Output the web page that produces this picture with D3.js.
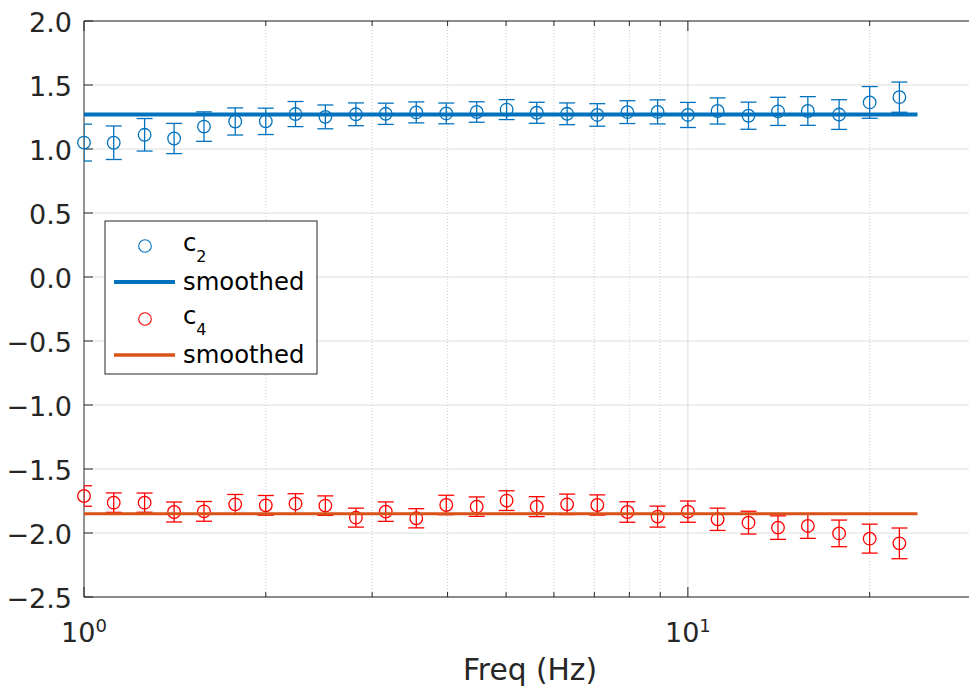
<!DOCTYPE html>
<html>
<head>
<meta charset="utf-8">
<script src="https://cdn.jsdelivr.net/npm/d3@7"></script>
<style>
  html, body { margin: 0; padding: 0; background: #fff; }
  svg { display: block; font-family: "DejaVu Sans", sans-serif; }
</style>
</head>
<body>
<svg id="chart" width="969" height="688"></svg>
<script>
// Frequencies (Hz) of each estimate
const freq = [1.00, 1.12, 1.26, 1.41, 1.58, 1.78, 2.00, 2.24, 2.51, 2.82,
              3.16, 3.55, 3.98, 4.47, 5.01, 5.62, 6.31, 7.08, 7.94, 8.91,
              10.0, 11.2, 12.6, 14.1, 15.8, 17.8, 20.0, 22.4];

// c2 coefficient and its error bar half-width
const c2 = [1.050, 1.049, 1.111, 1.082, 1.175, 1.215, 1.216, 1.273, 1.251, 1.271,
            1.275, 1.286, 1.278, 1.289, 1.308, 1.283, 1.275, 1.266, 1.288, 1.290,
            1.266, 1.297, 1.260, 1.294, 1.297, 1.269, 1.364, 1.405];
const c2Err = [0.144, 0.131, 0.127, 0.118, 0.115, 0.106, 0.103, 0.098, 0.093, 0.089,
               0.083, 0.082, 0.081, 0.080, 0.078, 0.082, 0.085, 0.088, 0.089, 0.094,
               0.098, 0.102, 0.106, 0.110, 0.112, 0.116, 0.124, 0.118];

// c4 coefficient and its error bar half-width
const c4 = [-1.711, -1.763, -1.763, -1.836, -1.831, -1.776, -1.784, -1.771, -1.786, -1.880,
            -1.833, -1.885, -1.781, -1.794, -1.747, -1.794, -1.776, -1.781, -1.836, -1.872,
            -1.833, -1.893, -1.919, -1.958, -1.945, -2.003, -2.044, -2.081];
const c4Err = [0.080, 0.076, 0.075, 0.078, 0.077, 0.077, 0.077, 0.078, 0.076, 0.074,
               0.076, 0.075, 0.076, 0.076, 0.077, 0.078, 0.080, 0.079, 0.080, 0.082,
               0.083, 0.087, 0.089, 0.092, 0.097, 0.104, 0.113, 0.120];

// Smoothed (constant) fits and the frequency span they cover
const smoothC2 = 1.27;
const smoothC4 = -1.85;
const smoothSpan = [1, 24];

// Axis ticks
const yTicks = [-2.5, -2.0, -1.5, -1.0, -0.5, 0.0, 0.5, 1.0, 1.5, 2.0];
const xMajor = [1, 10];
const xMajorExp = ["0", "1"];
const xMinor = [2, 3, 4, 5, 6, 7, 8, 9, 20, 30];

const legendNames = ["c", "smoothed", "c", "smoothed"];
const legendSubs = ["2", "", "4", ""];

const BLUE = "#0072BD", ORANGE = "#D95319", RED = "#FF0000", AX = "#262626";

const svg = d3.select("#chart");
const L = 84, T = 21, R = 976, B = 597;

const x = d3.scaleLog().domain([1, 30]).range([L, R]);
const y = d3.scaleLinear().domain([-2.5, 2.0]).range([B, T]);

svg.append("defs").append("clipPath").attr("id", "plotClip")
  .append("rect").attr("x", L).attr("y", T).attr("width", R - L).attr("height", B - T);

// Grid
const grid = svg.append("g");
grid.selectAll(".hg").data(yTicks).join("line")
  .attr("x1", L).attr("x2", R).attr("y1", d => y(d)).attr("y2", d => y(d))
  .attr("stroke", "#dedede").attr("stroke-width", 1);
grid.selectAll(".vmin").data(xMinor).join("line")
  .attr("x1", d => x(d)).attr("x2", d => x(d)).attr("y1", T).attr("y2", B)
  .attr("stroke", "#cfcfcf").attr("stroke-width", 1).attr("stroke-dasharray", "1,2");
grid.selectAll(".vmaj").data(xMajor.slice(1)).join("line")
  .attr("x1", d => x(d)).attr("x2", d => x(d)).attr("y1", T).attr("y2", B)
  .attr("stroke", "#dedede").attr("stroke-width", 1);

// Axis box and ticks (ticks point inward)
const axes = svg.append("g").attr("stroke", AX).attr("stroke-width", 1).attr("fill", "none");
axes.append("line").attr("x1", L).attr("x2", R).attr("y1", T).attr("y2", T);
axes.append("line").attr("x1", L).attr("x2", R).attr("y1", B).attr("y2", B);
axes.append("line").attr("x1", L).attr("x2", L).attr("y1", T).attr("y2", B);
axes.selectAll(".yt").data(yTicks).join("line")
  .attr("x1", L).attr("x2", L + 9).attr("y1", d => y(d)).attr("y2", d => y(d));
axes.selectAll(".xtMajB").data(xMajor).join("line")
  .attr("x1", d => x(d)).attr("x2", d => x(d)).attr("y1", B).attr("y2", B - 10);
axes.selectAll(".xtMajT").data(xMajor).join("line")
  .attr("x1", d => x(d)).attr("x2", d => x(d)).attr("y1", T).attr("y2", T + 10);
axes.selectAll(".xtMinB").data(xMinor).join("line")
  .attr("x1", d => x(d)).attr("x2", d => x(d)).attr("y1", B).attr("y2", B - 5);
axes.selectAll(".xtMinT").data(xMinor).join("line")
  .attr("x1", d => x(d)).attr("x2", d => x(d)).attr("y1", T).attr("y2", T + 5);

// Tick labels
const fmt = d => (d < 0 ? "\u2212" : "") + d3.format(".1f")(Math.abs(d));
svg.append("g").selectAll("text").data(yTicks).join("text")
  .attr("x", 72).attr("y", d => y(d) + 10.5)
  .attr("text-anchor", "end").attr("font-size", 27).attr("fill", AX)
  .text(fmt);

const xl = svg.append("g").selectAll("text").data(xMajor).join("text")
  .attr("x", d => x(d)).attr("y", 642)
  .attr("text-anchor", "middle").attr("font-size", 27).attr("fill", AX);
xl.append("tspan").text("10");
xl.append("tspan").attr("font-size", 18).attr("dy", -10).text((d, i) => xMajorExp[i]);

svg.append("text").attr("x", (L + R) / 2).attr("y", 680)
  .attr("text-anchor", "middle").attr("font-size", 29.7).attr("fill", AX)
  .text("Freq (Hz)");

// Data
const plot = svg.append("g");

function errorSeries(vals, errs, color) {
  const g = plot.append("g").attr("stroke", color).attr("fill", "none").attr("stroke-width", 1.3);
  const bars = g.append("g").attr("clip-path", "url(#plotClip)");
  const pts = freq.map((f, i) => ({ f, v: vals[i], e: errs[i] }));
  bars.selectAll(".v").data(pts).join("line")
    .attr("x1", d => x(d.f)).attr("x2", d => x(d.f))
    .attr("y1", d => y(d.v + d.e)).attr("y2", d => y(d.v - d.e));
  bars.selectAll(".ct").data(pts).join("line")
    .attr("x1", d => x(d.f) - 8).attr("x2", d => x(d.f) + 8)
    .attr("y1", d => y(d.v + d.e)).attr("y2", d => y(d.v + d.e));
  bars.selectAll(".cb").data(pts).join("line")
    .attr("x1", d => x(d.f) - 8).attr("x2", d => x(d.f) + 8)
    .attr("y1", d => y(d.v - d.e)).attr("y2", d => y(d.v - d.e));
  g.selectAll("circle").data(pts).join("circle")
    .attr("cx", d => x(d.f)).attr("cy", d => y(d.v)).attr("r", 6.3);
}

function smoothLine(v, color, w) {
  plot.append("path")
    .datum(smoothSpan.map(f => [f, v]))
    .attr("d", d3.line().x(d => x(d[0])).y(d => y(d[1])))
    .attr("stroke", color).attr("stroke-width", w).attr("fill", "none");
}

errorSeries(c2, c2Err, BLUE);
smoothLine(smoothC2, BLUE, 4);
errorSeries(c4, c4Err, RED);
smoothLine(smoothC4, ORANGE, 3);

// Legend
const lg = svg.append("g");
lg.append("rect").attr("x", 105).attr("y", 221).attr("width", 212).attr("height", 153)
  .attr("fill", "#fff").attr("stroke", AX).attr("stroke-width", 1);
const rowY = [246, 282, 319, 355];
const legendStyle = [
  { kind: "marker", color: BLUE },
  { kind: "line", color: BLUE, w: 4 },
  { kind: "marker", color: RED },
  { kind: "line", color: ORANGE, w: 3.5 }
];
legendStyle.forEach((s, i) => {
  if (s.kind === "marker") {
    lg.append("circle").attr("cx", 145).attr("cy", rowY[i]).attr("r", 6.3)
      .attr("fill", "none").attr("stroke", s.color).attr("stroke-width", 1.1);
  } else {
    lg.append("line").attr("x1", 114).attr("x2", 175).attr("y1", rowY[i]).attr("y2", rowY[i])
      .attr("stroke", s.color).attr("stroke-width", s.w);
  }
  const t = lg.append("text").attr("x", 183)
    .attr("y", rowY[i] + (legendSubs[i] ? 5 : 8))
    .attr("font-size", 24.3).attr("fill", "#000");
  t.append("tspan").text(legendNames[i]);
  if (legendSubs[i]) {
    t.append("tspan").attr("font-size", 16).attr("dy", 11).text(legendSubs[i]);
  }
});
</script>
</body>
</html>
